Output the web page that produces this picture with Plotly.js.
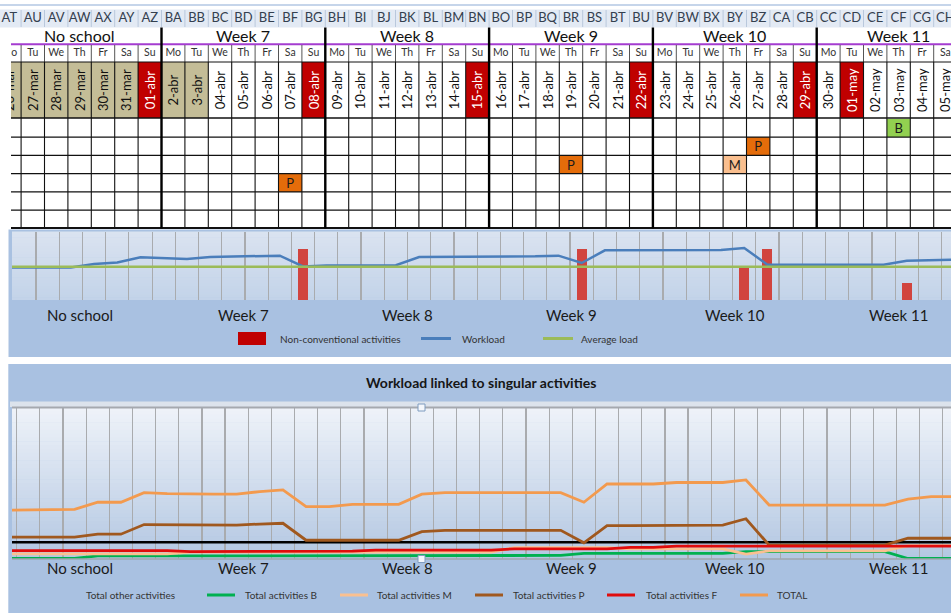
<!DOCTYPE html>
<html>
<head>
<meta charset="utf-8">
<script src="https://cdn.plot.ly/plotly-3.0.1.min.js"></script>
<style>
  html, body { margin: 0; padding: 0; background: #ffffff; }
  #sheet { width: 951px; height: 613px; }
</style>
</head>
<body>
<div id="sheet"></div>
<script>
// ---------------------------------------------------------------------------
// Calendar: 25-mar … 05-may (the first day is only reached by the chart lines)
// ---------------------------------------------------------------------------
const dates = ['25-mar','26-mar','27-mar','28-mar','29-mar','30-mar','31-mar',
  '01-abr','2-abr','3-abr','04-abr','05-abr','06-abr','07-abr',
  '08-abr','09-abr','10-abr','11-abr','12-abr','13-abr','14-abr',
  '15-abr','16-abr','17-abr','18-abr','19-abr','20-abr','21-abr',
  '22-abr','23-abr','24-abr','25-abr','26-abr','27-abr','28-abr',
  '29-abr','30-abr','01-may','02-may','03-may','04-may','05-may'];

const weekdays = ['Su','Mo','Tu','We','Th','Fr','Sa',
  'Su','Mo','Tu','We','Th','Fr','Sa',
  'Su','Mo','Tu','We','Th','Fr','Sa',
  'Su','Mo','Tu','We','Th','Fr','Sa',
  'Su','Mo','Tu','We','Th','Fr','Sa',
  'Su','Mo','Tu','We','Th','Fr','Sa'];

const columnLetters = ['AS','AT','AU','AV','AW','AX','AY','AZ',
  'BA','BB','BC','BD','BE','BF','BG','BH','BI','BJ','BK','BL','BM','BN','BO',
  'BP','BQ','BR','BS','BT','BU','BV','BW','BX','BY','BZ',
  'CA','CB','CC','CD','CE','CF','CG','CH'];

// N = no school, H = Sunday / holiday, S = school day
const dayKind = ['H','N','N','N','N','N','N',
  'H','N','N','S','S','S','S',
  'H','S','S','S','S','S','S',
  'H','S','S','S','S','S','S',
  'H','S','S','S','S','S','S',
  'H','S','H','S','S','S','S'];

// Week groups, each starting on a Monday (every 7 days from 26-mar)
const weeks = ['No school','Week 7','Week 8','Week 9','Week 10','Week 11'];

// Singular activities entered in the planning grid
const activityDates = ['07-abr','19-abr','26-abr','27-abr','03-may'];
const activityCodes = ['P','P','M','P','B'];
const activityRows  = [4, 3, 3, 2, 1];
const activityLoad  = [3, 3, 2, 3, 1];

// Daily workload (upper chart)
const workload = [1.90,1.90,1.90,1.90,2.10,2.19,2.50,2.45,2.39,2.51,2.55,2.59,2.59,
  1.96,2.02,2.02,2.02,2.03,2.51,2.51,2.51,2.51,2.51,2.55,2.59,2.16,
  2.90,2.90,2.90,2.90,2.90,2.92,3.04,2.06,2.06,2.06,2.06,2.06,2.06,2.29,2.33,2.35];
const averageLoad = 1.94;

// Workload linked to singular activities (lower chart)
const baseLoad = 0.66;
const activitiesB = [0.02,0.02,0.02,0.02,
  0.12,0.12,0.12,0.12,0.12,0.12,0.12,0.12,0.12,0.12,0.12,0.12,0.12,0.12,
  0.14,0.14,0.14,0.14,0.14,0.14,0.14,
  0.22,0.22,0.22,0.22,0.22,0.22,0.22,
  0.29,0.29,0.29,0.29,0.29,0.29,0.29,
  0.02,0.02,0.02];
const activitiesM = [0.20,0.20,0.20,0.20,0.20,0.20,0.20,0.20,
  0.27,0.27,0.27,0.27,0.27,0.27,0.27,0.27,0.27,0.27,0.27,0.27,0.27,0.27,
  0.45,0.45,0.45,0.45,0.45,
  0.40,0.40,0.40,0.40,0.40,
  0.19,
  0.32,0.32,0.32,0.32,0.32,0.32,
  0.53,0.53,0.53];
const activitiesP = [0.86,0.86,0.86,0.86,0.98,0.98,1.36,1.35,1.34,1.34,1.34,1.38,1.41,
  0.74,0.74,0.74,0.74,0.74,1.08,1.13,1.13,1.13,1.13,1.13,1.13,0.64,
  1.32,1.32,1.32,1.32,1.32,1.34,1.59,0.55,0.55,0.55,0.55,0.55,0.55,0.82,0.82,0.82];
const activitiesF = [0.33,0.33,0.33,0.33,0.33,0.33,0.33,0.33,
  0.29,0.29,0.29,0.29,0.29,0.29,0.29,
  0.31,
  0.35,0.35,0.35,0.35,0.35,0.35,
  0.40,0.40,0.40,0.40,0.40,
  0.46,0.46,
  0.51,0.51,0.51,0.51,0.51,0.51,0.51,0.51,0.51,0.51,0.51,0.51,0.51];
const totalLoad = [1.93,1.93,1.95,1.96,2.24,2.24,2.62,2.58,2.56,2.56,2.56,2.66,2.73,
  2.07,2.07,2.16,2.16,2.16,2.56,2.62,2.62,2.62,2.62,2.62,2.62,2.24,
  2.96,2.96,2.96,3.02,3.02,3.02,3.12,2.13,2.13,2.13,2.13,2.13,2.13,2.36,2.46,2.46];

// ---------------------------------------------------------------------------
// Page geometry helpers
// ---------------------------------------------------------------------------
const W = 951, H = 613;
const PX = px => px / W;
const PY = py => 1 - py / H;
const FONT = 'Lato, "Open Sans", "DejaVu Sans", sans-serif';

const dayIdx = dates.map((d, k) => k - 1);            // -1 … 40
const idxOf = d => dates.indexOf(d) - 1;

// column axes: pixel centre of day i = c0 + step * i
function axisRange(c0, step, leftPx, rightPx) {
  return [(leftPx - c0) / step, (rightPx - c0) / step];
}
const TABLE = { c0: 9.4, step: 23.4 };
const CH1 = { c0: 24.4, step: 23.22 };
const CH2 = { c0: 28.3, step: 23.15 };

// table rows (pixel rows of the sheet)
const HEAD_Y = 18.5, WEEK_Y = 35, DAY_Y = 53.5;
const DATE_TOP = 62, DATE_H = 56;
const GRID_TOP = 119, ROW_H = 18.22, GRID_ROWS = 6;

const shapes = [];
const annotations = [];

function rectPx(x0, y0, x1, y1, fill, layer) {
  shapes.push({ type: 'rect', xref: 'paper', yref: 'paper',
    x0: PX(x0), x1: PX(x1), y0: PY(y1), y1: PY(y0),
    fillcolor: fill, line: { width: 0 }, layer: layer || 'below' });
}
function hex(c) { return [1, 3, 5].map(k => parseInt(c.substr(k, 2), 16)); }
function gradientPx(x0, y0, x1, y1, top, bottom, n) {
  const a = hex(top), b = hex(bottom);
  for (let k = 0; k < n; k++) {
    const t = (k + 0.5) / n;
    const c = a.map((v, j) => Math.round(v + (b[j] - v) * t));
    const ya = y0 + (y1 - y0) * k / n;
    const yb = Math.min(y1, y0 + (y1 - y0) * (k + 1) / n + 0.6);
    rectPx(x0, ya, x1, yb, 'rgb(' + c.join(',') + ')');
  }
}
function linePx(x0, y0, x1, y1, color, width, layer) {
  shapes.push({ type: 'line', xref: 'paper', yref: 'paper',
    x0: PX(x0), x1: PX(x1), y0: PY(y0), y1: PY(y1),
    line: { color: color, width: width }, layer: layer || 'above' });
}
function tableLine(xref, x0, y0, x1, y1, color, width) {
  shapes.push({ type: 'line', xref: xref, yref: 'y', x0: x0, x1: x1, y0: y0, y1: y1,
    line: { color: color, width: width }, layer: 'above' });
}
function label(text, xPx, yPx, size, opts) {
  annotations.push(Object.assign({ text: text, xref: 'paper', yref: 'paper',
    x: PX(xPx), y: PY(yPx), xanchor: 'left', yanchor: 'middle', showarrow: false,
    font: { family: FONT, size: size, color: '#333333' } }, opts || {}));
}

// ---------------------------------------------------------------------------
// Sheet header and planning grid
// ---------------------------------------------------------------------------
linePx(0, 5, W, 5, '#B3C7E3', 1.5, 'below');
rectPx(0, 9.5, W, 27.5, '#E3EAF4');
const firstB = -1.5, lastB = 40.5;
for (let b = firstB; b <= lastB; b += 1) {
  tableLine('x4', b, 10, b, 27, '#B9C8DC', 1);
}
// purple rule below the week names
linePx(11, 44.3, W, 44.3, '#A43CD0', 2);

// day-name separators and body grid
for (let b = firstB; b <= lastB; b += 1) {
  tableLine('x', b, 45, b, DATE_TOP, '#555555', 1);
  tableLine('x', b, DATE_TOP, b, GRID_TOP + GRID_ROWS * ROW_H, '#111111', 1.1);
}
tableLine('x', firstB, DATE_TOP, lastB, DATE_TOP, '#111111', 1);
tableLine('x', firstB, DATE_TOP + DATE_H, lastB, DATE_TOP + DATE_H, '#111111', 1.6);
for (let r = 1; r < GRID_ROWS; r++) {
  tableLine('x', firstB, GRID_TOP + r * ROW_H, lastB, GRID_TOP + r * ROW_H, '#111111', 1.2);
}
tableLine('x', firstB, GRID_TOP + GRID_ROWS * ROW_H, lastB, GRID_TOP + GRID_ROWS * ROW_H, '#111111', 2.4);
// heavy rules between weeks
weeks.forEach((w, k) => {
  if (k > 0) tableLine('x', 7 * k - 0.5, 27.5, 7 * k - 0.5, GRID_TOP + GRID_ROWS * ROW_H, '#000000', 2.4);
});
// week names in the sheet
weeks.forEach((w, k) => {
  annotations.push({ text: w, xref: 'x', yref: 'y', x: 7 * k + 3, y: WEEK_Y,
    showarrow: false, xanchor: 'center', yanchor: 'middle',
    font: { family: FONT, size: 16, color: '#111111' } });
});

// ---------------------------------------------------------------------------
// Upper chart: non-conventional activities and workload
// ---------------------------------------------------------------------------
rectPx(8.5, 229.5, W, 357, '#A9C1E1');
gradientPx(12, 231.5, W, 300, '#DAE3F0', '#C3D3E9', 24);
weeks.forEach((w, k) => {
  annotations.push({ text: w, xref: 'x', yref: 'paper', x: 7 * k + 3, y: PY(315),
    showarrow: false, xanchor: 'center', yanchor: 'middle',
    font: { family: FONT, size: 15, color: '#1a1a1a' } });
});
rectPx(238, 332, 266, 345, '#C00000', 'above');
label('Non-conventional activities', 278, 338.5, 10);
linePx(421, 338.5, 451, 338.5, '#4A7EBB', 3);
label('Workload', 460, 338.5, 10);
linePx(543, 338.5, 573, 338.5, '#9BBB59', 3);
label('Average load', 579, 338.5, 10);

// ---------------------------------------------------------------------------
// Lower chart: workload linked to singular activities
// ---------------------------------------------------------------------------
rectPx(8.3, 364, W, H, '#A9C1E1');
rectPx(10, 401.5, W, 407, '#DCE3EC');
gradientPx(12, 407, W, 559, '#EFF3F9', '#B3C7E2', 40);
linePx(12, 407.5, W, 407.5, '#A5A9AF', 1.8);
linePx(12, 559, W, 559, '#9FA6AE', 1.5);
label('<b>Workload linked to singular activities</b>', 481.5, 382, 14,
  { xanchor: 'center', font: { family: FONT, size: 14, color: '#161616' } });
weeks.forEach((w, k) => {
  annotations.push({ text: w, xref: 'x', yref: 'paper', x: 7 * k + 3, y: PY(568),
    showarrow: false, xanchor: 'center', yanchor: 'middle',
    font: { family: FONT, size: 15, color: '#1a1a1a' } });
});
label('Total other activities', 84, 595, 10);
linePx(207, 595, 235, 595, '#00B050', 3);
label('Total activities B', 243, 595, 10);
linePx(340, 595, 368, 595, '#FAC090', 3);
label('Total activities M', 375, 595, 10);
linePx(475, 595, 503, 595, '#A0581E', 3);
label('Total activities P', 511, 595, 10);
linePx(607, 595, 635, 595, '#E00C0C', 3);
label('Total activities F', 644, 595, 10);
linePx(740, 595, 768, 595, '#F39A4E', 3);
label('TOTAL', 775, 595, 10);
// selection handles of the chart object
[[421.5, 407.5], [421.5, 559]].forEach(([cx, cy]) => {
  shapes.push({ type: 'rect', xref: 'paper', yref: 'paper',
    x0: PX(cx - 3.5), x1: PX(cx + 3.5), y0: PY(cy + 3.5), y1: PY(cy - 3.5),
    fillcolor: '#F4F7FB', line: { color: '#7F9CC0', width: 1 }, layer: 'above' });
});

// ---------------------------------------------------------------------------
// Traces
// ---------------------------------------------------------------------------
const kindFill = { N: '#C4BD97', H: '#C00000', S: '#FFFFFF' };
const kindText = { N: '#111111', H: '#FFFFFF', S: '#111111' };
const codeFill = { P: '#E46C0A', M: '#FABF8F', B: '#92D050' };

const traces = [];

// date cells (rotated dates)
traces.push({
  type: 'bar', xaxis: 'x', yaxis: 'y',
  x: dayIdx, base: dates.map(() => DATE_TOP), y: dates.map(() => DATE_H),
  width: 1, text: dates, textangle: -90, textposition: 'inside',
  insidetextanchor: 'middle', constraintext: 'none',
  textfont: { family: FONT, size: 13, color: dayKind.map(k => kindText[k]) },
  marker: { color: dayKind.map(k => kindFill[k]), line: { width: 0 } },
  hoverinfo: 'skip'
});

// activity cells in the planning grid
traces.push({
  type: 'bar', xaxis: 'x', yaxis: 'y',
  x: activityDates.map(idxOf),
  base: activityRows.map(r => GRID_TOP + (r - 1) * ROW_H),
  y: activityRows.map(() => ROW_H),
  width: 1, text: activityCodes, textangle: 0, textposition: 'inside',
  insidetextanchor: 'middle', constraintext: 'none',
  textfont: { family: FONT, size: 13, color: '#1a1a1a' },
  marker: { color: activityCodes.map(c => codeFill[c]), line: { width: 0 } },
  hoverinfo: 'skip'
});

// day names
traces.push({
  type: 'scatter', mode: 'text', xaxis: 'x', yaxis: 'y',
  x: dayIdx, y: dates.map(() => DAY_Y), text: weekdays,
  textfont: { family: FONT, size: 10.5, color: '#333333' }, hoverinfo: 'skip'
});

// column letters
traces.push({
  type: 'scatter', mode: 'text', xaxis: 'x4', yaxis: 'y',
  x: dayIdx, y: dates.map(() => HEAD_Y), text: columnLetters,
  textfont: { family: FONT, size: 13, color: '#34404F' }, hoverinfo: 'skip'
});

// upper chart
traces.push({
  type: 'bar', xaxis: 'x2', yaxis: 'y2',
  x: activityDates.map(idxOf), y: activityLoad, width: 0.43,
  marker: { color: '#D1443F', line: { width: 0 } }, hoverinfo: 'skip'
});
traces.push({
  type: 'scatter', mode: 'lines', xaxis: 'x2', yaxis: 'y2',
  x: dayIdx, y: workload, line: { color: '#4A7EBB', width: 2.5 }, hoverinfo: 'skip'
});
traces.push({
  type: 'scatter', mode: 'lines', xaxis: 'x2', yaxis: 'y2',
  x: [dayIdx[0], dayIdx[dayIdx.length - 1]], y: [averageLoad, averageLoad],
  line: { color: '#9BBB59', width: 2.5 }, hoverinfo: 'skip'
});

// lower chart
traces.push({
  type: 'scatter', mode: 'lines', xaxis: 'x3', yaxis: 'y3',
  x: [dayIdx[0], dayIdx[dayIdx.length - 1]], y: [baseLoad, baseLoad],
  line: { color: '#000000', width: 2.4 }, hoverinfo: 'skip'
});
[[activitiesB, '#00B050'], [activitiesM, '#FAC090'], [activitiesP, '#A0581E'],
 [activitiesF, '#E00C0C'], [totalLoad, '#F39A4E']].forEach(([vals, color]) => {
  traces.push({
    type: 'scatter', mode: 'lines', xaxis: 'x3', yaxis: 'y3',
    x: dayIdx, y: vals, line: { color: color, width: 2.8 }, hoverinfo: 'skip'
  });
});

const chartX = (geo, anchor) => ({
  domain: [PX(12), 1], range: axisRange(geo.c0, geo.step, 12, W), anchor: anchor,
  showgrid: true, gridcolor: '#A9ABAE', gridwidth: 1.2,
  tickmode: 'linear', tick0: -0.5, dtick: 1,
  showticklabels: false, ticks: '', zeroline: false, showline: false, fixedrange: true
});
const hiddenY = (domain, range, anchor) => ({
  domain: domain, range: range, anchor: anchor, showgrid: false, zeroline: false,
  showticklabels: false, ticks: '', showline: false, fixedrange: true
});

const layout = {
  width: W, height: H, margin: { l: 0, r: 0, t: 0, b: 0, pad: 0 },
  paper_bgcolor: '#FFFFFF', plot_bgcolor: 'rgba(0,0,0,0)',
  showlegend: false, barmode: 'overlay', bargap: 0,
  font: { family: FONT, color: '#222222' },
  xaxis: { domain: [PX(11), 1], range: axisRange(TABLE.c0, TABLE.step, 11, W),
           visible: false, anchor: 'y', fixedrange: true },
  xaxis4: { domain: [0, 1], range: axisRange(TABLE.c0, TABLE.step, 0, W),
            visible: false, anchor: 'y', fixedrange: true },
  yaxis: { domain: [PY(229), 1], range: [229, 0], visible: false, anchor: 'x', fixedrange: true },
  xaxis2: chartX(CH1, 'y2'),
  yaxis2: hiddenY([PY(300), PY(231.5)], [0, 4], 'x2'),
  xaxis3: chartX(CH2, 'y3'),
  yaxis3: hiddenY([PY(559), PY(407)], [0, 6], 'x3'),
  shapes: shapes,
  annotations: annotations
};

Plotly.newPlot('sheet', traces, layout, { staticPlot: true, displayModeBar: false });
</script>
</body>
</html>
